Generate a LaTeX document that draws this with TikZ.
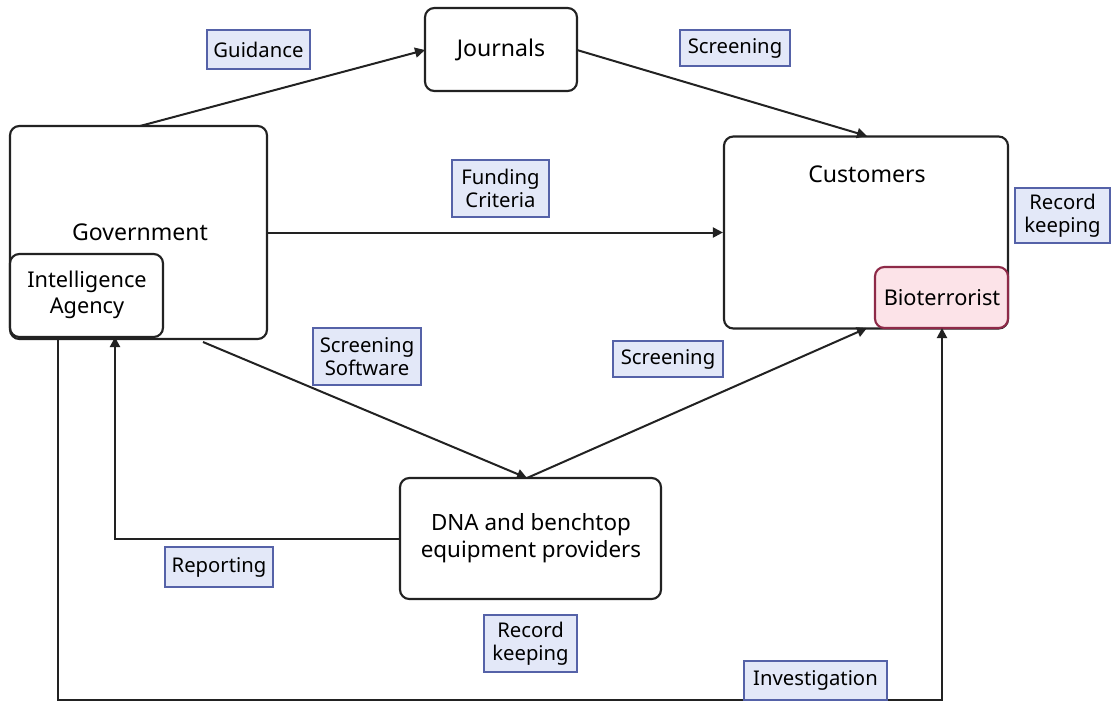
\documentclass[tikz,border=0pt]{standalone}
\usepackage{fontspec}
\setmainfont{Noto Sans}
\usetikzlibrary{arrows.meta}
\definecolor{lblfill}{HTML}{E3E8F8}
\definecolor{lbldraw}{HTML}{5562A8}
\definecolor{biofill}{HTML}{FCE3E8}
\definecolor{biodraw}{HTML}{8E2A48}
\definecolor{ink}{HTML}{222222}
\tikzset{
  ent/.style={draw=ink, line width=1.6pt, rounded corners=7pt, fill=white, inner sep=0pt},
  lbl/.style={draw=lbldraw, line width=1.3pt, fill=lblfill, inner sep=0pt, align=center, font=\fontsize{15.2}{17.5}\selectfont},
  txt/.style={font=\fontsize{17.3}{20}\selectfont, align=center},
  conn/.style={draw=ink, line width=1.5pt, -{Triangle[length=7.5pt,width=7.5pt]}},
  plain/.style={draw=ink, line width=1.5pt}
}
\begin{document}
\begin{tikzpicture}[x=0.75pt,y=-0.75pt]
\useasboundingbox (0,0) rectangle (1111,704);
% entities
\node[ent, minimum width=152*0.75pt, minimum height=83*0.75pt] (jour) at (501,49.5) {};
\node[txt] at (501,50) {Journals};
\node[ent, minimum width=257*0.75pt, minimum height=213*0.75pt] (gov) at (138.5,232.5) {};
\node[txt] at (140,232) {Government};
\node[ent, minimum width=153*0.75pt, minimum height=83*0.75pt] (intel) at (86.5,295.5) {};
\node[txt, font=\fontsize{16.3}{19.5}\selectfont] at (87,295) {Intelligence\\Agency};
\node[ent, minimum width=284*0.75pt, minimum height=192*0.75pt] (cust) at (866,232.5) {};
\node[txt] at (867,174) {Customers};
\node[ent, draw=biodraw, fill=biofill, minimum width=133*0.75pt, minimum height=61*0.75pt] (bio) at (941.5,297.5) {};
\node[txt, font=\fontsize{16.3}{18}\selectfont] at (942,298) {Bioterrorist};
\node[ent, minimum width=261*0.75pt, minimum height=121*0.75pt] (dna) at (530.5,538.5) {};
\node[txt, font=\fontsize{16.8}{20}\selectfont] at (531,538) {DNA and benchtop\\equipment providers};
% coordinates
\coordinate (govtop) at (140,126);
\coordinate (govbot) at (203,342);
\coordinate (dnatop) at (527,478);
\coordinate (custtop) at (867,136);
\coordinate (custbot) at (867,328);
\coordinate (jl) at (425,50);
\coordinate (jr) at (577,50);
\coordinate (intbotA) at (115,337);
\coordinate (intbotB) at (58,337);
\coordinate (biobot) at (942,328);
% connectors
\draw[conn] (govtop) -- (jl);
\draw[conn] (jr) -- (custtop);
\draw[conn] (gov.east) -- (gov.east -| cust.west);
\draw[conn] (govbot) -- (dnatop);
\draw[conn] (dnatop) -- (custbot);
\draw[conn] (dna.west) -| (intbotA);
\draw[conn] (intbotB) -- (58,700) -| (biobot);
% labels
\node[lbl, minimum width=103*0.75pt, minimum height=39*0.75pt] (l1) at (258.5,49.5) {Guidance};
\node[lbl, minimum width=110*0.75pt, minimum height=36*0.75pt] (l2) at (735,48) {Screening};
\node[lbl, minimum width=97*0.75pt, minimum height=57*0.75pt] (l3) at (500.5,188.5) {Funding\\Criteria};
\node[lbl, minimum width=95*0.75pt, minimum height=55*0.75pt] (l4) at (1062.5,215.5) {Record\\keeping};
\node[lbl, minimum width=108*0.75pt, minimum height=57*0.75pt] (l5) at (367,356.5) {Screening\\Software};
\node[lbl, minimum width=110*0.75pt, minimum height=36*0.75pt] (l6) at (668,359) {Screening};
\node[lbl, minimum width=108*0.75pt, minimum height=40*0.75pt] (l7) at (219,567) {Reporting};
\node[lbl, minimum width=93*0.75pt, minimum height=57*0.75pt] (l8) at (530.5,643.5) {Record\\keeping};
\node[lbl, minimum width=143*0.75pt, minimum height=39*0.75pt] (l9) at (815.5,680.5) {Investigation};
\end{tikzpicture}
\end{document}
